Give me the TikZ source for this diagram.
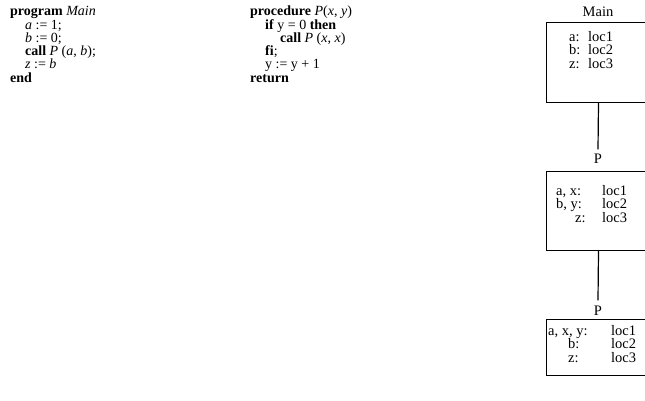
\documentclass[tikz,border=0pt]{standalone}
\usepackage{fontspec}
\setmainfont{Liberation Serif}
\begin{document}
\begin{tikzpicture}[x=1pt,y=-1pt,
  txt/.style={anchor=base west,inner sep=0pt,font=\fontsize{14}{13}\selectfont},
  btxt/.style={txt,font=\fontsize{14.5}{13}\selectfont},
  box/.style={draw,line width=1pt,minimum width=104pt,anchor=north west,inner sep=0pt},
  conn/.style={line width=1.2pt}]
\useasboundingbox (0,0) rectangle (645,401);
% Main program
\node[txt] (m1) at (10,16) {\textbf{program} \textit{Main}};
\node[txt] (m2) at (25,30) {\textit{a} := 1;};
\node[txt] (m3) at (25,43) {\textit{b} := 0;};
\node[txt] (m4) at (25,56) {\textbf{call} \textit{P} (\textit{a}, \textit{b});};
\node[txt] (m5) at (25,69) {\textit{z} := \textit{b}};
\node[txt] (m6) at (10,83) {\textbf{end}};
% Procedure
\node[txt] (p1) at (250,16) {\textbf{procedure} \textit{P}(\textit{x}, \textit{y})};
\node[txt] (p2) at (265,30) {\textbf{if} y = 0 \textbf{then}};
\node[txt] (p3) at (280,43) {\textbf{call} \textit{P} (\textit{x}, \textit{x})};
\node[txt] (p4) at (265,56) {\textbf{fi};};
\node[txt] (p5) at (265,69) {y := y + 1};
\node[txt] (p6) at (250,83) {\textbf{return}};
% Boxes
\node[box,minimum height=80pt] (b1) at (546,22) {};
\node[box,minimum height=79pt] (b2) at (546,171) {};
\node[box,minimum height=56pt] (b3) at (546,319) {};
% Labels
\node[btxt,anchor=base] (l1) at (598,17) {Main};
\node[btxt,anchor=base] (l2) at (598,163) {P};
\node[btxt,anchor=base] (l3) at (598,315) {P};
% Box 1 contents
\node[btxt] (b1a) at (569,42) {a:};  \node[btxt] (b1a2) at (588,42) {loc1};
\node[btxt] (b1b) at (569,55) {b:};  \node[btxt] (b1b2) at (588,55) {loc2};
\node[btxt] (b1c) at (569,69) {z:};  \node[btxt] (b1c2) at (588,69) {loc3};
% Box 2 contents
\node[btxt] (b2a) at (556,195) {a, x:}; \node[btxt] (b2a2) at (602,195) {loc1};
\node[btxt] (b2b) at (556,208) {b, y:}; \node[btxt] (b2b2) at (602,208) {loc2};
\node[btxt] (b2c) at (575,222) {z:};    \node[btxt] (b2c2) at (602,222) {loc3};
% Box 3 contents
\node[btxt] (b3a) at (548,335) {a, x, y:}; \node[btxt] (b3a2) at (611,335) {loc1};
\node[btxt] (b3b) at (568,348) {b:};       \node[btxt] (b3b2) at (611,348) {loc2};
\node[btxt] (b3c) at (568,362) {z:};       \node[btxt] (b3c2) at (611,362) {loc3};
% Connectors
\draw[conn] (b1.south) -- ([yshift=4pt]l2.north);
\draw[conn] (b2.south) -- ([yshift=5pt]l3.north);
\end{tikzpicture}
\end{document}
